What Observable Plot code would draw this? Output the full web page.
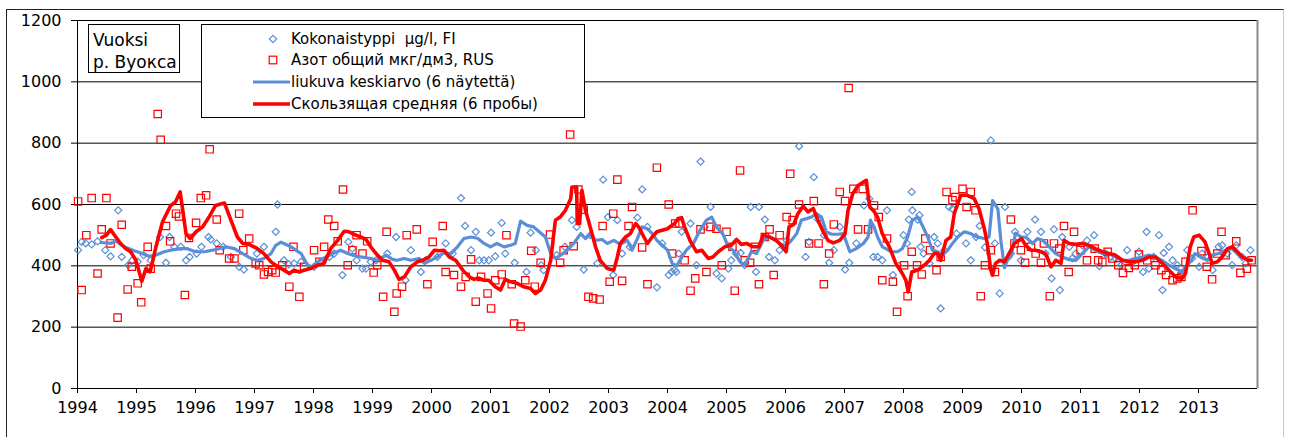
<!DOCTYPE html>
<html><head><meta charset="utf-8">
<script src="https://cdn.jsdelivr.net/npm/d3@7"></script>
<script src="https://cdn.jsdelivr.net/npm/@observablehq/plot@0.6"></script>
<style>
body{margin:0;background:#fff;}
#wrap{position:relative;width:1290px;height:437px;overflow:hidden;font-family:"DejaVu Sans",sans-serif;}
#outer{position:absolute;left:6px;top:9px;width:1278px;height:480px;border:1px solid #222;border-right-color:#c8c8c8;box-sizing:border-box;pointer-events:none;}
#chart{position:absolute;left:0;top:0;}
#site{position:absolute;left:88px;top:24px;width:92px;height:49px;border:1px solid #000;background:#fff;box-sizing:border-box;padding:4px 0 0 4px;font-size:17px;line-height:22px;color:#000;}
#legend{position:absolute;left:201px;top:24px;width:384px;height:94px;border:1px solid #000;background:#fff;box-sizing:border-box;}
.row{position:absolute;left:0;height:20px;width:380px;}
.row svg{position:absolute;left:48px;top:0;}
.row span{position:absolute;left:89px;top:0;font-size:15px;line-height:20px;white-space:pre;color:#000;}
</style></head>
<body><div id="wrap"><div id="chart"></div><div id="site"></div><div id="legend"></div><div id="outer"></div></div>
<script>
// ---- data ----
const yearTicks = [1994,1995,1996,1997,1998,1999,2000,2001,2002,2003,2004,2005,2006,2007,2008,2009,2010,2011,2012,2013];
const xTickLabels = ["1994","1995","1996","1997","1998","1999","2000","2001","2002","2003","2004","2005","2006","2007","2008","2009","2010","2011","2012","2013"];
const yTicks = [0,200,400,600,800,1000,1200];
const yTickLabels = ["0","200","400","600","800","1000","1200"];
const siteLabels = ["Vuoksi","р. Вуокса"];
const seriesNames = ["Kokonaistyppi  µg/l, FI","Азот общий мкг/дм3, RUS","liukuva keskiarvo (6 näytettä)","Скользящая средняя (6 пробы)"];

const fiYear = [1994.01,1994.07,1994.14,1994.24,1994.34,1994.47,1994.56,1994.69,1994.75,1994.86,1994.93,1995.02,1995.12,1995.24,1995.40,1995.50,1995.56,1995.64,1995.75,1995.84,1995.90,1996.02,1996.10,1996.22,1996.26,1996.36,1996.47,1996.60,1996.74,1996.82,1997.04,1997.16,1997.36,1997.39,1997.50,1997.58,1997.67,1997.79,1998.01,1998.12,1998.27,1998.35,1998.49,1998.59,1998.66,1998.73,1998.83,1998.89,1998.97,1999.06,1999.25,1999.40,1999.56,1999.65,1999.82,1999.90,2000.10,2000.24,2000.36,2000.50,2000.57,2000.67,2000.75,2000.81,2000.89,2000.97,2001.01,2001.08,2001.19,2001.25,2001.41,2001.61,2001.68,2001.77,2001.86,2001.90,2002.12,2002.26,2002.38,2002.46,2002.58,2002.69,2002.81,2002.91,2002.99,2003.08,2003.15,2003.23,2003.36,2003.49,2003.57,2003.66,2003.82,2003.91,2004.02,2004.07,2004.12,2004.15,2004.19,2004.24,2004.39,2004.49,2004.56,2004.63,2004.73,2004.83,2004.92,2005.03,2005.08,2005.16,2005.24,2005.31,2005.41,2005.50,2005.55,2005.65,2005.72,2005.82,2005.90,2005.96,2006.02,2006.23,2006.34,2006.40,2006.48,2006.55,2006.65,2006.74,2006.82,2006.92,2007.01,2007.08,2007.20,2007.33,2007.42,2007.49,2007.56,2007.64,2007.72,2007.82,2007.92,2008.00,2008.06,2008.09,2008.14,2008.15,2008.24,2008.27,2008.29,2008.34,2008.44,2008.52,2008.58,2008.63,2008.69,2008.77,2008.83,2008.90,2009.06,2009.14,2009.23,2009.29,2009.38,2009.48,2009.55,2009.63,2009.72,2009.82,2009.89,2009.99,2010.10,2010.23,2010.33,2010.41,2010.51,2010.55,2010.65,2010.69,2010.81,2010.86,2010.92,2011.03,2011.11,2011.23,2011.32,2011.42,2011.51,2011.59,2011.69,2011.79,2011.89,2011.99,2012.06,2012.12,2012.16,2012.24,2012.33,2012.39,2012.41,2012.50,2012.56,2012.64,2012.72,2012.81,2012.89,2013.01,2013.06,2013.16,2013.24,2013.34,2013.40,2013.49,2013.57,2013.64,2013.74,2013.80,2013.88];
const fiValue = [451,478,473,470,480,451,431,581,429,402,418,413,435,418,494,410,494,462,462,418,429,440,462,494,486,473,462,429,397,388,440,462,511,600,418,405,408,413,397,413,429,440,370,478,456,418,391,391,413,418,440,494,353,451,380,418,429,473,440,621,530,451,511,418,418,418,508,431,540,440,410,380,508,451,402,386,435,462,549,527,388,500,408,681,559,370,549,440,462,557,649,527,330,473,370,380,386,380,440,511,538,402,740,527,592,375,359,391,418,440,442,402,592,380,592,551,429,418,451,462,483,790,429,478,689,551,500,410,451,527,388,410,473,597,619,429,429,418,581,370,400,500,473,551,641,581,551,565,462,440,408,494,473,261,451,592,586,505,473,418,494,530,460,809,473,310,592,440,511,418,511,551,511,440,359,519,321,494,462,424,440,467,483,500,399,440,429,424,402,451,413,446,380,511,391,429,500,321,442,462,418,402,377,451,424,397,440,429,386,462,467,440,402,467,429,408,451];

const ruYear = [1994.01,1994.07,1994.15,1994.24,1994.34,1994.41,1994.49,1994.56,1994.68,1994.75,1994.85,1994.92,1995.02,1995.08,1995.19,1995.24,1995.36,1995.41,1995.50,1995.57,1995.67,1995.72,1995.82,1995.89,1996.01,1996.09,1996.18,1996.24,1996.36,1996.41,1996.57,1996.66,1996.74,1996.81,1996.91,1997.02,1997.08,1997.16,1997.23,1997.30,1997.36,1997.47,1997.59,1997.66,1997.76,1997.84,1998.01,1998.10,1998.18,1998.25,1998.35,1998.41,1998.50,1998.58,1998.66,1998.73,1998.83,1998.91,1999.02,1999.08,1999.18,1999.24,1999.37,1999.41,1999.50,1999.58,1999.75,1999.93,2000.02,2000.19,2000.24,2000.38,2000.50,2000.58,2000.67,2000.75,2000.84,2000.95,2001.01,2001.08,2001.19,2001.27,2001.36,2001.40,2001.51,2001.59,2001.69,2001.75,2001.85,2002.01,2002.18,2002.24,2002.35,2002.41,2002.49,2002.58,2002.66,2002.74,2002.85,2002.90,2003.02,2003.08,2003.15,2003.23,2003.34,2003.40,2003.57,2003.66,2003.82,2004.02,2004.08,2004.13,2004.20,2004.29,2004.39,2004.47,2004.56,2004.66,2004.73,2004.83,2004.92,2005.00,2005.10,2005.14,2005.23,2005.31,2005.40,2005.48,2005.55,2005.65,2005.73,2005.80,2005.90,2006.02,2006.08,2006.12,2006.23,2006.40,2006.48,2006.56,2006.65,2006.74,2006.82,2006.92,2007.01,2007.07,2007.15,2007.23,2007.31,2007.40,2007.50,2007.58,2007.64,2007.72,2007.82,2007.89,2008.01,2008.07,2008.14,2008.23,2008.31,2008.37,2008.45,2008.56,2008.63,2008.73,2008.83,2008.88,2009.00,2009.07,2009.14,2009.22,2009.31,2009.38,2009.48,2009.55,2009.82,2009.88,2009.99,2010.06,2010.16,2010.24,2010.33,2010.38,2010.48,2010.55,2010.64,2010.72,2010.80,2010.89,2011.00,2011.11,2011.24,2011.30,2011.37,2011.46,2011.54,2011.64,2011.72,2011.82,2011.92,2011.99,2012.13,2012.27,2012.37,2012.45,2012.56,2012.64,2012.71,2012.78,2012.90,2013.05,2013.14,2013.23,2013.32,2013.39,2013.46,2013.64,2013.71,2013.82,2013.90];
const ruValue = [610,321,500,621,375,519,621,473,231,534,323,397,343,281,462,391,895,811,530,480,570,561,305,491,540,621,630,780,551,451,424,424,570,451,489,408,402,372,380,386,378,402,332,462,299,397,451,413,462,551,530,480,649,402,451,500,440,480,378,402,299,511,250,310,332,500,519,340,478,530,380,370,332,364,421,283,364,310,261,353,372,500,340,212,202,353,449,332,410,502,410,451,828,464,649,583,299,294,290,530,348,570,681,351,530,592,460,340,720,600,440,538,538,418,319,359,519,380,527,521,402,511,462,319,711,418,410,462,340,494,519,370,500,559,700,549,600,473,611,473,340,440,535,641,611,980,651,519,651,519,597,559,353,489,348,250,402,301,446,402,372,489,451,386,429,641,614,624,651,592,641,581,301,402,451,380,551,473,451,410,462,440,410,473,301,473,456,530,380,511,451,418,456,418,413,446,424,402,377,393,402,437,418,402,386,370,353,359,364,413,581,448,397,356,440,511,435,480,377,391,418];

const fiAvgYear = [1994.40,1994.56,1994.65,1994.79,1994.96,1995.10,1995.21,1995.33,1995.47,1995.58,1995.75,1995.86,1996.00,1996.15,1996.29,1996.40,1996.51,1996.66,1996.80,1996.94,1997.05,1997.16,1997.28,1997.36,1997.45,1997.62,1997.79,1997.90,1997.98,1998.07,1998.21,1998.35,1998.46,1998.58,1998.66,1998.80,1998.97,1999.08,1999.23,1999.34,1999.42,1999.54,1999.65,1999.79,1999.88,1999.99,2000.10,2000.21,2000.33,2000.44,2000.55,2000.67,2000.78,2000.89,2001.00,2001.11,2001.23,2001.34,2001.42,2001.51,2001.62,2001.73,2001.85,2001.93,2002.02,2002.10,2002.19,2002.30,2002.41,2002.53,2002.61,2002.69,2002.78,2002.89,2002.98,2003.09,2003.20,2003.32,2003.40,2003.49,2003.57,2003.66,2003.74,2003.82,2003.91,2004.00,2004.08,2004.16,2004.21,2004.32,2004.44,2004.55,2004.66,2004.75,2004.83,2004.94,2005.03,2005.11,2005.23,2005.31,2005.42,2005.51,2005.62,2005.73,2005.85,2005.93,2006.02,2006.10,2006.19,2006.27,2006.36,2006.44,2006.53,2006.61,2006.69,2006.78,2006.89,2006.98,2007.09,2007.20,2007.32,2007.40,2007.44,2007.50,2007.56,2007.64,2007.70,2007.79,2007.90,2007.98,2008.07,2008.15,2008.24,2008.32,2008.41,2008.49,2008.58,2008.66,2008.75,2008.83,2008.92,2009.03,2009.14,2009.25,2009.37,2009.45,2009.51,2009.60,2009.65,2009.71,2009.76,2009.82,2009.90,2009.99,2010.07,2010.19,2010.27,2010.36,2010.47,2010.58,2010.69,2010.81,2010.92,2011.03,2011.14,2011.25,2011.37,2011.48,2011.59,2011.71,2011.82,2011.93,2012.05,2012.16,2012.27,2012.38,2012.50,2012.61,2012.72,2012.78,2012.86,2012.94,2013.03,2013.15,2013.23,2013.34,2013.46,2013.57,2013.68,2013.80,2013.88];
const fiAvgValue = [476,473,481,462,449,440,431,435,446,451,456,456,446,446,451,456,462,456,440,424,418,424,440,467,477,462,440,402,397,413,429,442,451,440,435,429,424,418,435,421,418,424,418,424,408,418,429,442,440,462,489,494,490,473,462,473,462,467,473,546,532,527,507,494,440,424,435,451,473,505,489,503,483,486,473,483,470,483,451,489,527,521,505,483,467,451,408,400,418,451,473,516,549,559,527,503,462,451,413,402,446,440,483,494,483,467,467,483,505,549,554,559,570,559,511,503,503,505,446,456,473,494,549,527,494,462,456,446,446,456,494,549,559,532,494,451,446,435,451,473,494,511,505,494,489,494,613,585,483,394,418,429,507,494,494,473,489,483,462,440,429,420,418,440,462,451,440,440,429,418,418,424,429,435,429,418,402,391,380,397,413,440,429,418,435,440,451,456,435,424,418];

const ruAvgYear = [1994.41,1994.49,1994.56,1994.65,1994.73,1994.82,1994.90,1994.99,1995.09,1995.16,1995.23,1995.33,1995.44,1995.58,1995.66,1995.74,1995.84,1995.91,1996.01,1996.12,1996.23,1996.34,1996.41,1996.49,1996.60,1996.71,1996.80,1996.91,1997.05,1997.16,1997.28,1997.36,1997.50,1997.59,1997.67,1997.76,1997.84,1997.95,1998.07,1998.18,1998.29,1998.41,1998.52,1998.60,1998.72,1998.80,1998.89,1998.97,1999.06,1999.17,1999.28,1999.37,1999.45,1999.54,1999.65,1999.76,1999.85,1999.96,2000.05,2000.13,2000.21,2000.30,2000.41,2000.53,2000.64,2000.72,2000.80,2000.89,2000.97,2001.08,2001.17,2001.25,2001.34,2001.45,2001.56,2001.68,2001.76,2001.85,2001.93,2002.02,2002.10,2002.18,2002.27,2002.36,2002.38,2002.46,2002.47,2002.51,2002.55,2002.61,2002.69,2002.78,2002.86,2002.98,2003.09,2003.15,2003.20,2003.29,2003.37,2003.46,2003.51,2003.60,2003.66,2003.74,2003.82,2003.91,2004.00,2004.06,2004.12,2004.18,2004.24,2004.29,2004.38,2004.49,2004.58,2004.69,2004.77,2004.86,2004.97,2005.08,2005.17,2005.25,2005.34,2005.45,2005.55,2005.62,2005.73,2005.84,2005.93,2006.01,2006.06,2006.14,2006.21,2006.30,2006.38,2006.47,2006.55,2006.64,2006.72,2006.81,2006.92,2007.01,2007.06,2007.14,2007.23,2007.32,2007.37,2007.40,2007.43,2007.50,2007.56,2007.64,2007.76,2007.87,2007.98,2008.04,2008.08,2008.14,2008.24,2008.35,2008.44,2008.52,2008.58,2008.63,2008.72,2008.80,2008.86,2008.97,2009.08,2009.20,2009.28,2009.37,2009.42,2009.48,2009.51,2009.56,2009.63,2009.71,2009.79,2009.88,2009.96,2010.00,2010.07,2010.16,2010.24,2010.33,2010.41,2010.50,2010.58,2010.67,2010.72,2010.81,2010.92,2011.03,2011.14,2011.25,2011.37,2011.48,2011.59,2011.71,2011.82,2011.93,2012.05,2012.16,2012.27,2012.36,2012.44,2012.53,2012.61,2012.72,2012.78,2012.86,2012.92,2013.01,2013.11,2013.18,2013.23,2013.32,2013.40,2013.49,2013.57,2013.66,2013.74,2013.85,2013.90];
const ruAvgValue = [492,500,518,494,473,456,446,418,350,391,380,462,543,597,608,641,505,489,511,527,559,597,601,605,549,494,473,470,456,440,413,402,386,375,386,380,386,391,402,408,456,483,513,511,500,494,486,462,440,418,413,386,356,364,397,413,418,429,451,449,451,429,418,386,364,356,360,353,353,332,321,356,348,343,332,326,310,321,353,418,549,559,581,619,657,657,538,538,646,581,527,462,418,391,386,429,473,494,505,538,527,494,473,494,511,516,521,530,538,554,557,527,483,446,451,424,429,446,462,467,486,470,473,462,462,500,494,483,467,446,527,535,570,595,576,587,549,511,483,475,483,505,581,635,662,673,679,630,592,578,559,505,462,408,375,353,315,380,386,402,418,440,440,418,483,494,570,630,630,619,586,521,473,386,370,408,418,413,440,473,483,489,467,451,451,446,440,397,418,408,483,473,470,473,467,456,446,440,435,418,413,413,418,429,429,413,397,380,364,359,375,462,494,500,478,440,408,413,429,456,462,446,429,418,418];

const blue = "#5A8FD8", red = "#FF0000";
const fi = fiYear.map((t,i)=>({t, v: fiValue[i]}));
const ru = ruYear.map((t,i)=>({t, v: ruValue[i]}));
const fiAvg = fiAvgYear.map((t,i)=>({t, v: fiAvgValue[i]}));
const ruAvg = ruAvgYear.map((t,i)=>({t, v: ruAvgValue[i]}));

const chart = Plot.plot({
  width: 1290, height: 437,
  marginLeft: 77, marginRight: 33, marginTop: 20, marginBottom: 49,
  style: {fontFamily: "DejaVu Sans", fontSize: "16px", color: "#000", background: "transparent", overflow: "visible"},
  x: {type: "linear", domain: [1994, 2014], ticks: yearTicks, tickFormat: (d) => xTickLabels[yearTicks.indexOf(d)], tickSize: 5, tickPadding: 8, label: null},
  y: {domain: [0, 1200], ticks: yTicks, tickFormat: (d) => yTickLabels[yTicks.indexOf(d)], tickSize: 6, tickPadding: 10, label: null},
  marks: [
    Plot.ruleY(yTicks, {stroke: "#000", strokeWidth: 1}),
    Plot.ruleX([1994], {stroke: "#000", strokeWidth: 1}),
    Plot.ruleX([2014], {stroke: "#888", strokeWidth: 2}),
    Plot.dot(fi, {x: "t", y: "v", symbol: "diamond2", r: 3.2, stroke: blue, strokeWidth: 1.2, fill: "none"}),
    Plot.dot(ru, {x: "t", y: "v", symbol: "square2", r: 4.7, stroke: red, strokeWidth: 1.2, fill: "none"}),
    Plot.line(fiAvg, {x: "t", y: "v", stroke: blue, strokeWidth: 3.2, strokeLinejoin: "round"}),
    Plot.line(ruAvg, {x: "t", y: "v", stroke: red, strokeWidth: 3.6, strokeLinejoin: "round"})
  ]
});
document.getElementById("chart").appendChild(chart);

// site label box
const site = document.getElementById("site");
site.innerHTML = siteLabels.map(s => `<div>${s}</div>`).join("");

// legend
const legend = document.getElementById("legend");
const rowTops = [4, 25, 47, 69];
const markers = [
  `<svg width="46" height="20"><path d="M23,6.3 L26.7,10 L23,13.7 L19.3,10 Z" fill="none" stroke="${blue}" stroke-width="1.2"/></svg>`,
  `<svg width="46" height="20"><rect x="19.2" y="6.2" width="7.6" height="7.6" fill="none" stroke="${red}" stroke-width="1.2"/></svg>`,
  `<svg width="46" height="20"><line x1="3" y1="10" x2="40" y2="10" stroke="${blue}" stroke-width="3.2"/></svg>`,
  `<svg width="46" height="20"><line x1="3" y1="10" x2="40" y2="10" stroke="${red}" stroke-width="3.6"/></svg>`
];
seriesNames.forEach((name, i) => {
  const row = document.createElement("div");
  row.className = "row";
  row.style.top = rowTops[i] + "px";
  row.innerHTML = markers[i] + `<span>${name}</span>`;
  legend.appendChild(row);
});
</script>
</body></html>
